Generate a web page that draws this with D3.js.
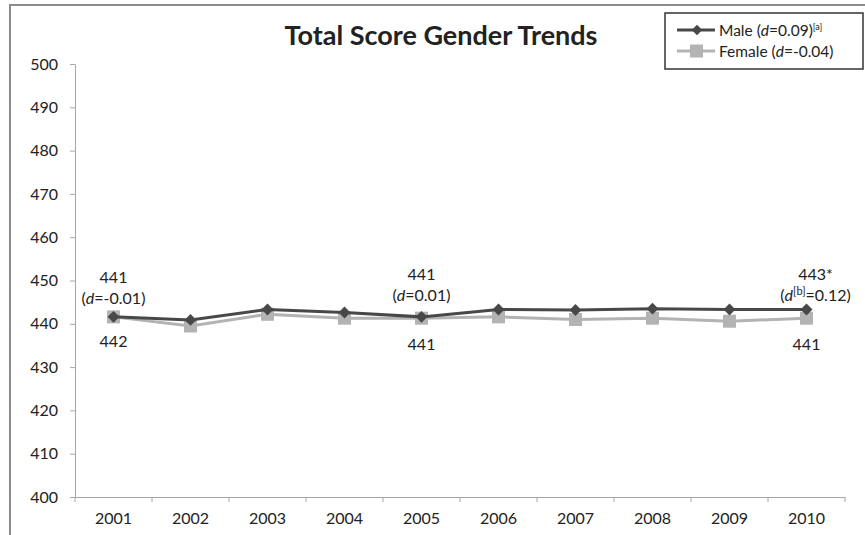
<!DOCTYPE html>
<html>
<head>
<meta charset="utf-8">
<script src="https://cdn.jsdelivr.net/npm/d3@7"></script>
<style>
  body { margin: 0; background: #fff; }
  svg text { font-family: Lato, "Noto Sans", sans-serif; fill: #222; }
</style>
</head>
<body>
<div id="chart"></div>
<script>
// data
var years = ["2001","2002","2003","2004","2005","2006","2007","2008","2009","2010"];
var male = [441.6, 440.9, 443.3, 442.6, 441.6, 443.3, 443.2, 443.5, 443.3, 443.3];
var female = [441.6, 439.5, 442.2, 441.3, 441.3, 441.6, 441.0, 441.3, 440.6, 441.3];
var yTicks = [400, 410, 420, 430, 440, 450, 460, 470, 480, 490, 500];

var W = 865, H = 535;
var margin = {top: 64, right: 20, bottom: 38, left: 75},
    width = W - margin.left - margin.right,
    height = H - margin.top - margin.bottom;

var svg = d3.select("#chart").append("svg")
    .attr("width", W).attr("height", H);

// outer chart frame
svg.append("rect")
    .attr("x", 10).attr("y", 5)
    .attr("width", W + 10).attr("height", H + 10)
    .attr("fill", "none").attr("stroke", "#8c8c8c").attr("stroke-width", 2);

var g = svg.append("g")
    .attr("transform", "translate(" + margin.left + "," + margin.top + ")");

var x = d3.scaleBand().domain(years).range([0, width]);
var y = d3.scaleLinear().domain([400, 500]).range([height, 0]);

// y axis
var yAx = g.append("g")
    .call(d3.axisLeft(y).tickValues(yTicks).tickSize(5).tickPadding(12));
yAx.selectAll("text").style("font-size", "16px");

// x axis, ticks sit at the band boundaries
var xAx = g.append("g")
    .attr("transform", "translate(0," + y(400) + ")")
    .call(d3.axisBottom(x).tickSize(0).tickPadding(16));
xAx.selectAll("text").style("font-size", "16px");
xAx.selectAll(".tick").append("line")
    .attr("x1", x.bandwidth() / 2).attr("x2", x.bandwidth() / 2)
    .attr("y1", 0).attr("y2", 5);
xAx.append("line")
    .attr("x1", 0).attr("x2", 0).attr("y1", 0).attr("y2", 5);

svg.selectAll(".domain").attr("stroke", "#a6a6a6");
svg.selectAll(".tick line").attr("stroke", "#a6a6a6");
xAx.selectAll("line").attr("stroke", "#a6a6a6");

var cx = function (d, i) { return x(years[i]) + x.bandwidth() / 2; };
var line = d3.line().x(cx).y(function (d) { return y(d); });

// female series
g.append("path").datum(female)
    .attr("d", line).attr("fill", "none")
    .attr("stroke", "#b3b3b3").attr("stroke-width", 3);
g.selectAll(".fdot").data(female).enter().append("rect")
    .attr("x", function (d, i) { return cx(d, i) - 6.5; })
    .attr("y", function (d) { return y(d) - 6.5; })
    .attr("width", 13).attr("height", 13)
    .attr("fill", "#b3b3b3");

// male series
g.append("path").datum(male)
    .attr("d", line).attr("fill", "none")
    .attr("stroke", "#484848").attr("stroke-width", 3);
var diamond = d3.symbol().type(d3.symbolDiamond2).size(90);
g.selectAll(".mdot").data(male).enter().append("path")
    .attr("d", diamond)
    .attr("transform", function (d, i) { return "translate(" + cx(d, i) + "," + y(d) + ")"; })
    .attr("fill", "#484848");

// annotations
var notes = [
  {i: 0, top: "441", d: "=-0.01)", below: "442", dx: 0, up: 34, down: 30},
  {i: 4, top: "441", d: "=0.01)", below: "441", dx: 0, up: 37, down: 32},
  {i: 9, top: "443*", d: "=0.12)", below: "441", dx: 9, up: 30, down: 32}
];
notes.forEach(function (n) {
  var px = cx(null, n.i);
  g.append("text").attr("x", px + n.dx).attr("y", y(male[n.i]) - n.up)
      .attr("text-anchor", "middle").style("font-size", "16px").text(n.top);
  var t2 = g.append("text").attr("x", px + n.dx).attr("y", y(male[n.i]) - n.up + 21)
      .attr("text-anchor", "middle").style("font-size", "16px");
  t2.append("tspan").text("(");
  t2.append("tspan").style("font-style", "italic").text("d");
  if (n.i === 9) {
    t2.append("tspan").attr("dy", -6).style("font-size", "11px").text("[b]");
    t2.append("tspan").attr("dy", 6).text(n.d);
  } else {
    t2.append("tspan").text(n.d);
  }
  g.append("text").attr("x", px).attr("y", y(female[n.i]) + n.down)
      .attr("text-anchor", "middle").style("font-size", "16px").text(n.below);
});

// title
svg.append("text")
    .attr("x", 441).attr("y", 45)
    .attr("text-anchor", "middle")
    .style("font-size", "27px").style("font-weight", "bold")
    .text("Total Score Gender Trends");

// legend
var leg = svg.append("g");
leg.append("rect")
    .attr("x", 665).attr("y", 13).attr("width", 198).attr("height", 56)
    .attr("fill", "#fff").attr("stroke", "#333").attr("stroke-width", 1.5);
var items = [
  {y: 30, color: "#484848", sq: false},
  {y: 51, color: "#b3b3b3", sq: true}
];
items.forEach(function (it) {
  leg.append("line").attr("x1", 677).attr("x2", 715)
      .attr("y1", it.y).attr("y2", it.y)
      .attr("stroke", it.color).attr("stroke-width", 3);
  if (it.sq) {
    leg.append("rect").attr("x", 690).attr("y", it.y - 6.5)
        .attr("width", 13).attr("height", 13).attr("fill", it.color);
  } else {
    leg.append("path").attr("d", d3.symbol().type(d3.symbolDiamond2).size(70))
        .attr("transform", "translate(697," + it.y + ")").attr("fill", it.color);
  }
});
var l1 = leg.append("text").attr("x", 719).attr("y", 36).style("font-size", "15.5px");
l1.append("tspan").text("Male (");
l1.append("tspan").style("font-style", "italic").text("d");
l1.append("tspan").text("=0.09)");
l1.append("tspan").attr("dy", -6).style("font-size", "9px").text("[a]");
var l2 = leg.append("text").attr("x", 719).attr("y", 57).style("font-size", "15.5px");
l2.append("tspan").text("Female (");
l2.append("tspan").style("font-style", "italic").text("d");
l2.append("tspan").text("=-0.04)");
</script>
</body>
</html>
